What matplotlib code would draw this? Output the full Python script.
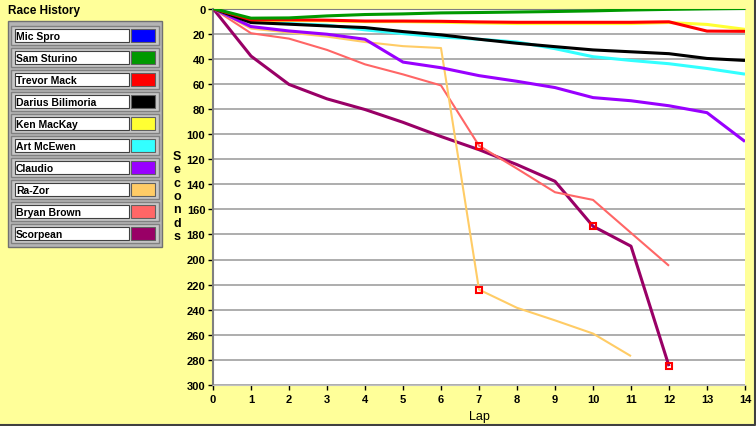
import matplotlib.pyplot as plt
from matplotlib.patches import Rectangle

plt.rcParams['font.family'] = ['Liberation Sans', 'DejaVu Sans']

# ---------------- datos ----------------
laps = list(range(15))

names = ['Mic Spro', 'Sam Sturino', 'Trevor Mack', 'Darius Bilimoria', 'Ken MacKay',
         'Art McEwen', 'Claudio', 'Ra-Zor', 'Bryan Brown', 'Scorpean']
colors = ['#0000FF', '#009900', '#FF0000', '#000000', '#FFFF33',
          '#33FFFF', '#9900FF', '#FFCC66', '#FF6666', '#990066']

mic_spro = []
sam_sturino = [0, 7.7, 7.5, 5.9, 4.8, 4.3, 3.5, 3.2, 2.8, 2.4, 1.9, 1.2, 0.7, 0.3, 0]
trevor_mack = [0, 9, 9, 9.3, 10, 10, 10.2, 10.7, 11, 11, 11, 11, 10.6, 18, 18.2]
darius_bilimoria = [0, 11.2, 12.5, 13.9, 15.2, 18.4, 21, 24.5, 27.7, 30.4, 33, 34.5, 36, 39.8, 41.4]
ken_mackay = [0, 9.5, 9.5, 9.8, 10.5, 10.5, 11, 11.5, 12, 12, 12, 12, 11.2, 12.7, 16.6]
art_mcewen = [0, 10.7, 12, 13.3, 17, 20, 22.7, 24.5, 26.7, 32, 38.4, 41.4, 44, 47.8, 52.3]
claudio = [0, 14.4, 17.9, 20.5, 24.5, 42.7, 47.2, 53.5, 58, 63, 71, 73.5, 77.5, 83, 106]
ra_zor = [0, 16, 19.2, 22.4, 26.7, 30, 31.5, 224, 238.5, 248.5, 259, 277]
bryan_brown = [0, 19.7, 24, 33, 44.5, 52.5, 61.3, 109.3, 127.6, 146.4, 152.5, 178.8, 205]
scorpean = [0, 37.9, 60.5, 72, 80.5, 90.7, 102, 112.5, 124.4, 137.7, 173.5, 189.4, 285]

series = [mic_spro, sam_sturino, trevor_mack, darius_bilimoria, ken_mackay,
          art_mcewen, claudio, ra_zor, bryan_brown, scorpean]

# vueltas con marcador (paradas)
pit_laps = {'Ra-Zor': [7], 'Bryan Brown': [7], 'Scorpean': [10, 12]}

y_ticks = list(range(0, 301, 20))
x_ticks = list(range(0, 15))

# ---------------- figura ----------------
fondo = '#FFFF99'
fig = plt.figure(figsize=(7.56, 4.27), dpi=100, facecolor=fondo)

# capa de fondo en pixeles para la leyenda
bg = fig.add_axes([0, 0, 1, 1])
bg.set_xlim(0, 756)
bg.set_ylim(427, 0)
bg.axis('off')
# borde solo abajo y a la derecha
bg.plot([0, 754.5, 754.5], [425.5, 425.5, 0], color='#404040', lw=1.5)

bg.text(8, 11, 'Race History', fontsize=8.5, fontweight='bold', va='center', ha='left')
bg.add_patch(Rectangle((8, 22), 154, 226, facecolor='#B4B4B4', edgecolor='#707070', lw=1))
for i in range(len(names)):
    y0 = 28 + 22 * i
    bg.add_patch(Rectangle((11, y0 - 1), 148, 19, facecolor='#C8C8C8', edgecolor='#808080', lw=1))
    bg.add_patch(Rectangle((15, y0 + 2), 114, 13, facecolor='white', edgecolor='#404040', lw=0.8))
    bg.add_patch(Rectangle((131, y0 + 2), 24, 13, facecolor=colors[i], edgecolor='#606060', lw=0.8))
    bg.text(16, y0 + 8.7, names[i], fontsize=7.5, fontweight='bold', va='center', ha='left')

# grafica principal
ax = fig.add_axes([213 / 756, 1 - 386 / 427, 532 / 756, 376.5 / 427])
ax.set_facecolor('white')

for i in reversed(range(len(names))):
    datos = series[i]
    if len(datos) == 0:
        continue
    lw = 1.5 if names[i] in ('Ra-Zor', 'Bryan Brown') else 2.2
    ax.plot(laps[:len(datos)], datos, color=colors[i], lw=lw, solid_capstyle='butt', zorder=3)
    if names[i] in pit_laps:
        for v in pit_laps[names[i]]:
            ax.plot(v, datos[v], 's', ms=5, mfc='none', mec='#FF0000', mew=1.5, zorder=5)

ax.set_xlim(0, 14)
ax.set_ylim(300, 0)
ax.set_xticks(x_ticks)
ax.set_yticks(y_ticks)
ax.yaxis.grid(True, color='#A0A0A0', lw=1.2)
ax.set_axisbelow(True)

for lbl in ax.get_xticklabels() + ax.get_yticklabels():
    lbl.set_fontweight('bold')
ax.tick_params(axis='both', labelsize=8, length=3.5, width=1, pad=2, colors='black')
ax.tick_params(axis='x', pad=3)

ax.spines['right'].set_visible(False)
ax.spines['top'].set_color('#808080')
ax.spines['left'].set_color('#808080')
ax.spines['left'].set_linewidth(1.5)
ax.spines['bottom'].set_color('#C0C0C0')

ax.set_xlabel('Lap', fontsize=9, labelpad=4)
bg.text(177, 197, '\n'.join('Seconds'), fontsize=9, fontweight='bold',
        ha='center', va='center', linespacing=1.15)

fig.savefig('out.png', dpi=100, facecolor=fondo)
